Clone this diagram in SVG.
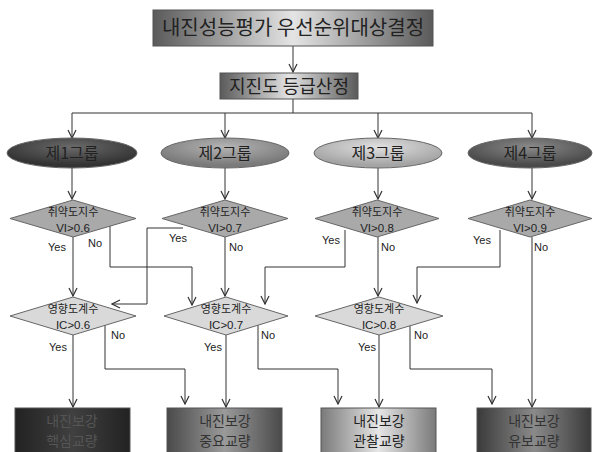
<svg xmlns="http://www.w3.org/2000/svg" width="593" height="452" viewBox="0 0 593 452">
<defs>
<linearGradient id="gTop" x1="0" y1="0" x2="1" y2="0">
<stop offset="0" stop-color="#5a5a5a"/><stop offset="0.5" stop-color="#e4e4e4"/><stop offset="1" stop-color="#5a5a5a"/>
</linearGradient>
<linearGradient id="gB1" x1="0" y1="0" x2="1" y2="0">
<stop offset="0" stop-color="#222"/><stop offset="0.5" stop-color="#404040"/><stop offset="1" stop-color="#222"/>
</linearGradient>
<linearGradient id="gB2" x1="0" y1="0" x2="1" y2="0">
<stop offset="0" stop-color="#4a4a4a"/><stop offset="0.5" stop-color="#9a9a9a"/><stop offset="1" stop-color="#4a4a4a"/>
</linearGradient>
<linearGradient id="gB3" x1="0" y1="0" x2="1" y2="0">
<stop offset="0" stop-color="#7a7a7a"/><stop offset="0.5" stop-color="#e6e6e6"/><stop offset="1" stop-color="#7a7a7a"/>
</linearGradient>
<linearGradient id="gB4" x1="0" y1="0" x2="1" y2="0">
<stop offset="0" stop-color="#3a3a3a"/><stop offset="0.5" stop-color="#8a8a8a"/><stop offset="1" stop-color="#3a3a3a"/>
</linearGradient>
<radialGradient id="gE1" cx="0.5" cy="0.3" r="0.6">
<stop offset="0" stop-color="#6a6a6a"/><stop offset="1" stop-color="#333"/>
</radialGradient>
<radialGradient id="gE2" cx="0.5" cy="0.3" r="0.6">
<stop offset="0" stop-color="#b4b4b4"/><stop offset="1" stop-color="#7a7a7a"/>
</radialGradient>
<radialGradient id="gE3" cx="0.5" cy="0.3" r="0.6">
<stop offset="0" stop-color="#e0e0e0"/><stop offset="1" stop-color="#a4a4a4"/>
</radialGradient>
<radialGradient id="gE4" cx="0.5" cy="0.3" r="0.6">
<stop offset="0" stop-color="#8a8a8a"/><stop offset="1" stop-color="#4a4a4a"/>
</radialGradient>
<marker id="arr" markerWidth="10" markerHeight="10" refX="9" refY="5" orient="auto" markerUnits="userSpaceOnUse">
<path d="M1,1 L9,5 L1,9" fill="none" stroke="#333" stroke-width="1.2"/>
</marker>
</defs>
<style>
text{font-family:"Noto Sans CJK KR","Liberation Sans",sans-serif;text-anchor:middle;fill:#222}
.box{stroke:#555;stroke-width:1}
.dv{fill:#a9a9a9;stroke:#666;stroke-width:1}
.di{fill:#d9d9d9;stroke:#666;stroke-width:1}
.ell{stroke:#666;stroke-width:1}
.c{fill:none;stroke:#333;stroke-width:1}
.ca{fill:none;stroke:#333;stroke-width:1;marker-end:url(#arr)}
.t20{font-size:20px}
.t18{font-size:18px}
.t16{font-size:16px}
.t11{font-size:11px}
.v{font-family:"Liberation Sans",sans-serif;font-size:11.5px}
.yn{font-family:"Liberation Sans Narrow","Liberation Sans",sans-serif;font-size:11px;fill:#222}
.bt{font-size:14px}
</style>
<g id="connectors">
<line class="ca" x1="293" y1="46" x2="293" y2="72"/>
<line class="c" x1="293" y1="99" x2="293" y2="113"/>
<line class="c" x1="72" y1="113" x2="532" y2="113"/>
<line class="ca" x1="72" y1="113" x2="72" y2="138"/>
<line class="ca" x1="225" y1="113" x2="225" y2="138"/>
<line class="ca" x1="378" y1="113" x2="378" y2="138"/>
<line class="ca" x1="532" y1="113" x2="532" y2="138"/>
<line class="ca" x1="72" y1="168" x2="72" y2="199"/>
<line class="ca" x1="225" y1="168" x2="225" y2="199"/>
<line class="ca" x1="378" y1="168" x2="378" y2="199"/>
<line class="ca" x1="532" y1="168" x2="532" y2="199"/>
<line class="ca" x1="73" y1="237" x2="73" y2="296"/>
<polyline class="ca" points="110,226 110,267 192,267 192,305"/>
<polyline class="ca" points="183,228 147,228 147,304 112,304"/>
<line class="ca" x1="225" y1="237" x2="225" y2="296"/>
<polyline class="ca" points="345,230 345,267 265,267 265,304"/>
<line class="ca" x1="378" y1="237" x2="378" y2="296"/>
<polyline class="ca" points="500,230 500,267 417,267 417,303"/>
<line class="ca" x1="532" y1="237" x2="532" y2="407"/>
<line class="ca" x1="73" y1="335" x2="73" y2="407"/>
<polyline class="ca" points="105,323 105,369 185,369 185,404"/>
<line class="ca" x1="226" y1="335" x2="226" y2="407"/>
<polyline class="ca" points="258,323 258,369 338,369 338,404"/>
<line class="ca" x1="379" y1="335" x2="379" y2="407"/>
<polyline class="ca" points="410,323 410,369 492,369 492,404"/>
</g>
<g id="labels">
<text class="yn" x="57" y="251">Yes</text>
<text class="yn" x="95" y="247">No</text>
<text class="yn" x="178" y="242">Yes</text>
<text class="yn" x="236" y="251">No</text>
<text class="yn" x="331" y="244">Yes</text>
<text class="yn" x="388" y="251">No</text>
<text class="yn" x="482" y="244">Yes</text>
<text class="yn" x="541" y="251">No</text>
<text class="yn" x="58" y="351">Yes</text>
<text class="yn" x="118" y="339">No</text>
<text class="yn" x="213" y="351">Yes</text>
<text class="yn" x="268" y="339">No</text>
<text class="yn" x="367" y="351">Yes</text>
<text class="yn" x="421" y="339">No</text>
</g>
<g id="n_title">
<rect class="box" x="153" y="10" width="280" height="36" fill="url(#gTop)"/>
<text class="t20" x="293" y="35">내진성능평가 우선순위대상결정</text>
</g>
<g id="n_grade">
<rect class="box" x="220" y="73" width="138" height="26" fill="url(#gTop)"/>
<text class="t18" x="289" y="93">지진도 등급산정</text>
</g>
<g id="n_g1"><ellipse class="ell" cx="72" cy="153" rx="65" ry="15" fill="url(#gE1)"/><text class="t16" x="72" y="159">제1그룹</text></g>
<g id="n_g2"><ellipse class="ell" cx="225" cy="153" rx="64" ry="15" fill="url(#gE2)"/><text class="t16" x="225" y="159">제2그룹</text></g>
<g id="n_g3"><ellipse class="ell" cx="378" cy="153" rx="64" ry="15" fill="url(#gE3)"/><text class="t16" x="378" y="159">제3그룹</text></g>
<g id="n_g4"><ellipse class="ell" cx="530" cy="153" rx="62" ry="15" fill="url(#gE4)"/><text class="t16" x="530" y="159">제4그룹</text></g>
<g id="n_vi1"><polygon class="dv" points="73,200 136,218.5 73,237 10,218.5"/><text class="t11" x="73" y="216">취약도지수</text><text class="v" x="73" y="232">VI&gt;0.6</text></g>
<g id="n_vi2"><polygon class="dv" points="225,200 288,218.5 225,237 162,218.5"/><text class="t11" x="225" y="216">취약도지수</text><text class="v" x="225" y="232">VI&gt;0.7</text></g>
<g id="n_vi3"><polygon class="dv" points="377,200 439,218.5 377,237 315,218.5"/><text class="t11" x="377" y="216">취약도지수</text><text class="v" x="377" y="232">VI&gt;0.8</text></g>
<g id="n_vi4"><polygon class="dv" points="530,200 592,218.5 530,237 468,218.5"/><text class="t11" x="530" y="216">취약도지수</text><text class="v" x="530" y="232">VI&gt;0.9</text></g>
<g id="n_ic1"><polygon class="di" points="73,297 136,316 73,335 10,316"/><text class="t11" x="73" y="313">영향도계수</text><text class="v" x="73" y="329">IC&gt;0.6</text></g>
<g id="n_ic2"><polygon class="di" points="226,297 288,316 226,335 164,316"/><text class="t11" x="226" y="313">영향도계수</text><text class="v" x="226" y="329">IC&gt;0.7</text></g>
<g id="n_ic3"><polygon class="di" points="379,297 443,316 379,335 315,316"/><text class="t11" x="379" y="313">영향도계수</text><text class="v" x="379" y="329">IC&gt;0.8</text></g>
<g id="n_b1"><rect class="box" x="15" y="408" width="115" height="46" fill="url(#gB1)"/><text class="bt" x="72" y="426" style="fill:#555">내진보강</text><text class="bt" x="72" y="446" style="fill:#555">핵심교량</text></g>
<g id="n_b2"><rect class="box" x="167" y="408" width="115" height="46" fill="url(#gB2)"/><text class="bt" x="225" y="426" style="fill:#333">내진보강</text><text class="bt" x="225" y="446" style="fill:#333">중요교량</text></g>
<g id="n_b3"><rect class="box" x="321" y="408" width="115" height="46" fill="url(#gB3)"/><text class="bt" x="379" y="426">내진보강</text><text class="bt" x="379" y="446">관찰교량</text></g>
<g id="n_b4"><rect class="box" x="477" y="408" width="114" height="46" fill="url(#gB4)"/><text class="bt" x="534" y="426" style="fill:#333">내진보강</text><text class="bt" x="534" y="446" style="fill:#333">유보교량</text></g>
</svg>
